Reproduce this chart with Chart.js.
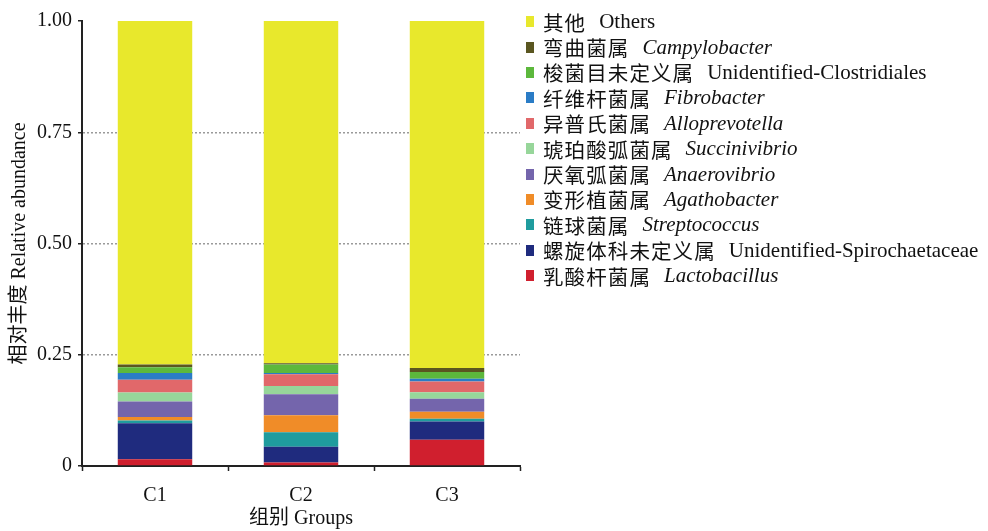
<!DOCTYPE html>
<html>
<head>
<meta charset="utf-8">
<script src="https://cdn.jsdelivr.net/npm/chart.js@4/dist/chart.umd.min.js"></script>
<style>
  html, body { margin: 0; padding: 0; background: #ffffff; }
  #wrap { position: relative; width: 988px; height: 531px; overflow: hidden; }
  #chart { position: absolute; left: 0; top: 0; }
  #legend {
    position: absolute; left: 526px; top: 9px;
    font-family: "Liberation Serif", "Noto Sans CJK SC", serif;
    font-size: 21px; color: #111;
  }
  .item { display: flex; align-items: center; height: 25.4px; white-space: nowrap; }
  .sw { width: 8px; height: 11px; margin-right: 9px; flex: none; }
  .cn { font-family: "Noto Sans CJK SC", sans-serif; font-size: 20.5px; letter-spacing: 1.1px; margin-right: 13px; }
  .it { font-style: italic; }
</style>
</head>
<body>
<div id="wrap">
  <canvas id="chart" width="988" height="531"></canvas>
  <div id="legend"></div>
</div>
<script>
// Sample groups
const groups = ['C1', 'C2', 'C3'];

// Genera, listed from the bottom of each stack upwards
const generaCn = ['乳酸杆菌属', '螺旋体科未定义属', '链球菌属', '变形植菌属', '厌氧弧菌属',
                  '琥珀酸弧菌属', '异普氏菌属', '纤维杆菌属', '梭菌目未定义属', '弯曲菌属', '其他'];
const generaLatin = ['Lactobacillus', 'Unidentified-Spirochaetaceae', 'Streptococcus', 'Agathobacter',
                     'Anaerovibrio', 'Succinivibrio', 'Alloprevotella', 'Fibrobacter',
                     'Unidentified-Clostridiales', 'Campylobacter', 'Others'];

// Relative abundance per genus for C1, C2, C3
const lactobacillus   = [0.015, 0.008, 0.059];
const spirochaetaceae = [0.081, 0.035, 0.041];
const streptococcus   = [0.006, 0.033, 0.006];
const agathobacter    = [0.008, 0.038, 0.016];
const anaerovibrio    = [0.035, 0.047, 0.029];
const succinivibrio   = [0.020, 0.019, 0.015];
const alloprevotella  = [0.029, 0.026, 0.024];
const fibrobacter     = [0.015, 0.003, 0.006];
const clostridiales   = [0.013, 0.019, 0.015];
const campylobacter   = [0.006, 0.003, 0.009];
const others          = [0.772, 0.769, 0.780];

const yTicks = [0, 0.25, 0.5, 0.75, 1];

const seriesValues = [lactobacillus, spirochaetaceae, streptococcus, agathobacter, anaerovibrio,
                      succinivibrio, alloprevotella, fibrobacter, clostridiales, campylobacter, others];

const palette = ['#d01f2e', '#1f2b7e', '#1f9c9e', '#f08c28', '#7465ac',
                 '#97d69a', '#e1686a', '#2a7cc6', '#5cb83c', '#5a5620', '#e8e82c'];

const fontFamily = '"Liberation Serif", "Noto Sans CJK SC", serif';

const datasets = seriesValues.map((vals, i) => ({
  label: generaLatin[i],
  data: vals,
  backgroundColor: palette[i],
  borderWidth: 0
}));

new Chart(document.getElementById('chart'), {
  type: 'bar',
  data: { labels: groups, datasets },
  options: {
    responsive: false,
    animation: false,
    layout: { padding: { left: 0, right: 468, top: 21, bottom: 0 } },
    plugins: { legend: { display: false }, tooltip: { enabled: false } },
    datasets: { bar: { barPercentage: 0.51, categoryPercentage: 1 } },
    scales: {
      x: {
        stacked: true,
        grid: { drawOnChartArea: false, drawTicks: true, tickLength: 5, tickColor: '#222', tickWidth: 1.5, offset: true },
        border: { color: '#222', width: 2 },
        ticks: { color: '#111', font: { family: fontFamily, size: 20 }, padding: 13 },
        title: { display: true, text: '组别 Groups', color: '#111', font: { family: fontFamily, size: 20 }, padding: { top: 0, bottom: 0 } },
        afterFit(scale) { scale.height = 65; }
      },
      y: {
        stacked: true,
        min: 0,
        max: 1,
        afterBuildTicks(scale) { scale.ticks = yTicks.map(v => ({ value: v })); },
        ticks: {
          color: '#111',
          font: { family: fontFamily, size: 20 },
          padding: 6,
          callback: v => (v === 0 ? '0' : v.toFixed(2))
        },
        grid: {
          color: c => (c.tick && (c.tick.value === 0 || c.tick.value === 1)) ? 'rgba(0,0,0,0)' : '#9a9a9a',
          lineWidth: 1.5,
          tickColor: '#222',
          tickLength: 4,
          tickWidth: 1.5,
          tickBorderDash: []
        },
        border: { color: '#222', width: 2, dash: [2, 2] },
        title: { display: true, text: '相对丰度 Relative abundance', color: '#111', font: { family: fontFamily, size: 20 }, padding: { top: 8, bottom: 4 } },
        afterFit(scale) { scale.width = 82; }
      }
    }
  }
});

// Legend: top entry is the top of the stack
const legend = document.getElementById('legend');
for (let i = generaLatin.length - 1; i >= 0; i--) {
  const row = document.createElement('div');
  row.className = 'item';
  const sw = document.createElement('span');
  sw.className = 'sw';
  sw.style.background = palette[i];
  const cn = document.createElement('span');
  cn.className = 'cn';
  cn.textContent = generaCn[i];
  const la = document.createElement('span');
  const upright = generaLatin[i] === 'Others' || generaLatin[i].startsWith('Unidentified');
  if (!upright) la.className = 'it';
  la.textContent = generaLatin[i];
  row.append(sw, cn, la);
  legend.appendChild(row);
}
</script>
</body>
</html>
